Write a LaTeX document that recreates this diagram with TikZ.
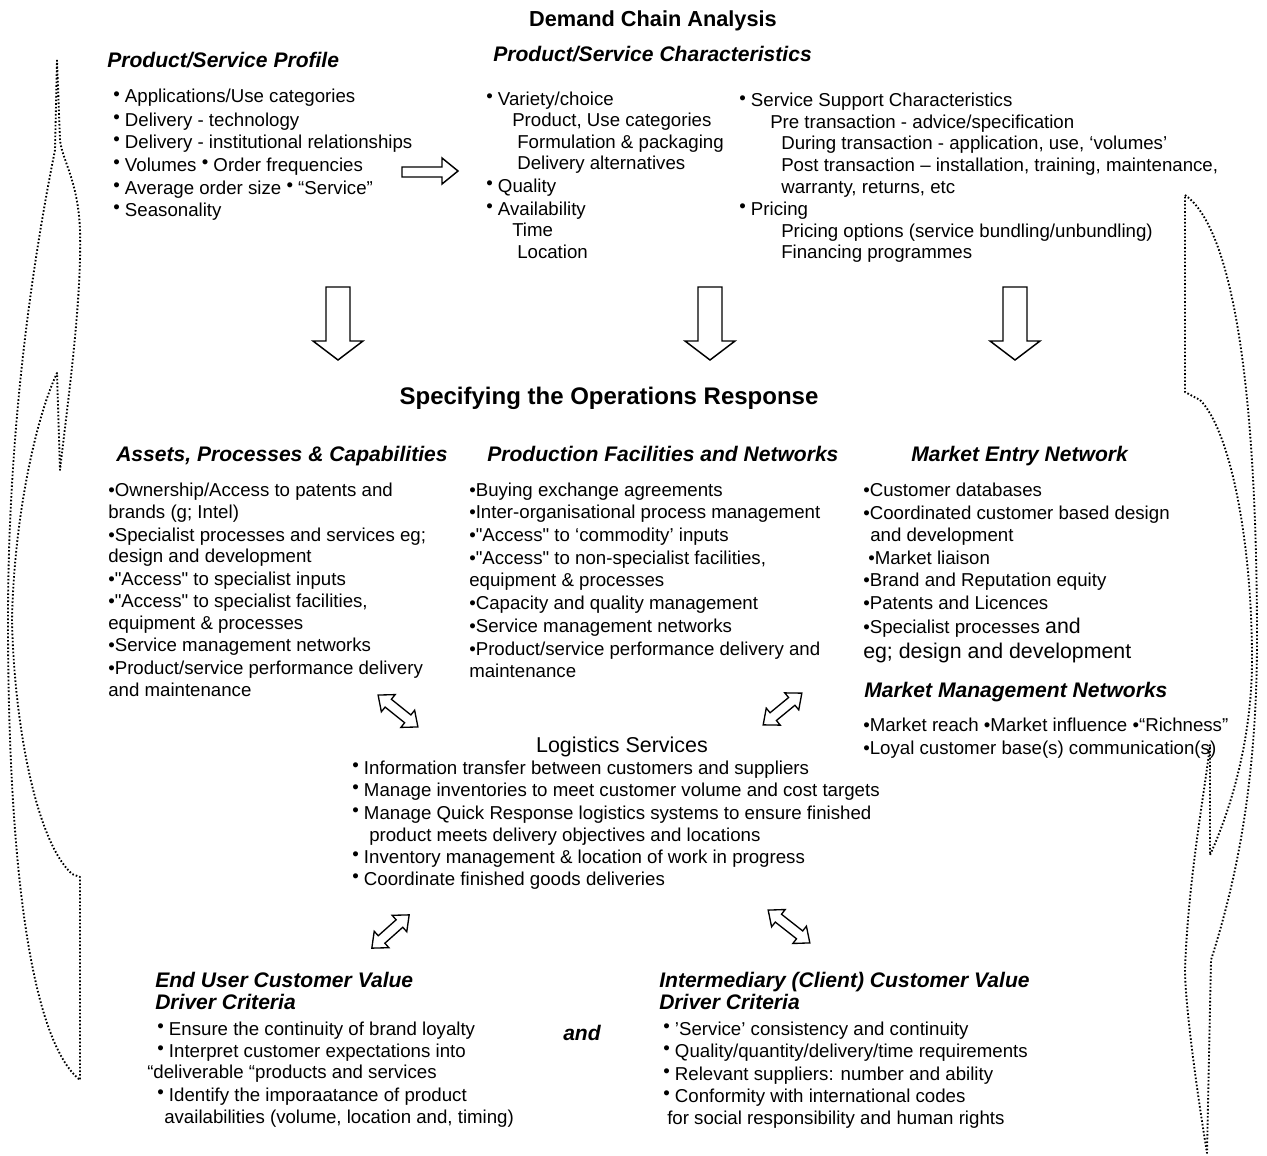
\documentclass[tikz,border=0pt]{standalone}
\usepackage{fontspec}
\setmainfont{Liberation Sans}
\newcommand\bt{\raisebox{0.15em}{•}}
\newcommand\qq{\textquotedbl}
\begin{document}
\begin{tikzpicture}[x=0.75pt,y=-0.75pt,
  txt/.style={anchor=base west,inner sep=0pt,font=\fontsize{14}{16}\selectfont},
  bigtxt/.style={anchor=base west,inner sep=0pt,font=\fontsize{16}{18}\selectfont},
  hd/.style={anchor=base west,inner sep=0pt,font=\fontsize{15.8}{18}\selectfont\bfseries\itshape},
  ttl/.style={anchor=base,inner sep=0pt,font=\fontsize{16.3}{19}\selectfont\bfseries},
  hollow/.style={draw,line width=1.1pt,fill=white,line join=miter},
  loopline/.style={draw,line width=1.4pt,dash pattern=on 1.2pt off 1.5pt,line join=round}
]
\useasboundingbox[fill=white] (0,0) rectangle (1267,1156);

% ---------- Demand chain analysis ----------
\node[ttl] (t1) at (653,27) {Demand Chain Analysis};
\node[hd] (h1) at (107,68) {Product/Service Profile};
\node[hd] (h2) at (493,62) {Product/Service Characteristics};

\node[txt] (a1) at (113,103) {\bt\ Applications/Use categories};
\node[txt] (a2) at (113,126) {\bt\ Delivery - technology};
\node[txt] (a3) at (113,148) {\bt\ Delivery - institutional relationships};
\node[txt] (a4) at (113,171) {\bt\ Volumes \bt\ Order frequencies};
\node[txt] (a5) at (113,194) {\bt\ Average order size \bt\ “Service”};
\node[txt] (a6) at (113,216) {\bt\ Seasonality};

\node[txt] (b1) at (486,105) {\bt\ Variety/choice};
\node[txt] (b2) at (512,126) {Product, Use categories};
\node[txt] (b3) at (517,148) {Formulation \& packaging};
\node[txt] (b4) at (517,169) {Delivery alternatives};
\node[txt] (b5) at (486,192) {\bt\ Quality};
\node[txt] (b6) at (486,215) {\bt\ Availability};
\node[txt] (b7) at (512,236) {Time};
\node[txt] (b8) at (517,258) {Location};

\node[txt] (c1) at (739,107) {\bt\ Service Support Characteristics};
\node[txt] (c2) at (770,128) {Pre transaction - advice/specification};
\node[txt] (c3) at (781,149) {During transaction - application, use, ‘volumes’};
\node[txt] (c4) at (781,171) {Post transaction – installation, training, maintenance,};
\node[txt] (c5) at (781,193) {warranty, returns, etc};
\node[txt] (c6) at (739,215) {\bt\ Pricing};
\node[txt] (c7) at (781,237) {Pricing options (service bundling/unbundling)};
\node[txt] (c8) at (781,258) {Financing programmes};

% hollow right arrow between the two top blocks
\draw[hollow] (402,167) -- (442,167) -- (442,158) -- (458,171) -- (442,184)
  -- (442,177) -- (402,177) -- cycle;

% hollow down arrows
\foreach \cx in {338,710,1015}{
  \draw[hollow] (\cx-12,287) -- (\cx+12,287) -- (\cx+12,341) -- (\cx+25,341)
    -- (\cx,360) -- (\cx-25,341) -- (\cx-12,341) -- cycle;
}

% ---------- Operations response ----------
\node[ttl,font=\fontsize{18}{21}\selectfont\bfseries] (t2) at (609,404) {Specifying the Operations Response};
\node[hd] (h3) at (116,461) {Assets, Processes \& Capabilities};
\node[hd] (h4) at (487,461) {Production Facilities and Networks};
\node[hd] (h5) at (911,461) {Market Entry Network};

\node[txt] (e1) at (108,496) {•Ownership/Access to patents and};
\node[txt] (e2) at (108,518) {brands (g; Intel)};
\node[txt] (e3) at (108,541) {•Specialist processes and services eg;};
\node[txt] (e4) at (108,562) {design and development};
\node[txt] (e5) at (108,585) {•\qq Access\qq\ to specialist inputs};
\node[txt] (e6) at (108,607) {•\qq Access\qq\ to specialist facilities,};
\node[txt] (e7) at (108,629) {equipment \& processes};
\node[txt] (e8) at (108,651) {•Service management networks};
\node[txt] (e9) at (108,674) {•Product/service performance delivery};
\node[txt] (e10) at (108,696) {and maintenance};

\node[txt] (f1) at (469,496) {•Buying exchange agreements};
\node[txt] (f2) at (469,518) {•Inter-organisational process management};
\node[txt] (f3) at (469,541) {•\qq Access\qq\ to ‘commodity’ inputs};
\node[txt] (f4) at (469,564) {•\qq Access\qq\ to non-specialist facilities,};
\node[txt] (f5) at (469,586) {equipment \& processes};
\node[txt] (f6) at (469,609) {•Capacity and quality management};
\node[txt] (f7) at (469,632) {•Service management networks};
\node[txt] (f8) at (469,655) {•Product/service performance delivery and};
\node[txt] (f9) at (469,677) {maintenance};

\node[txt] (g1) at (863,496) {•Customer databases};
\node[txt] (g2) at (863,519) {•Coordinated customer based design};
\node[txt] (g3) at (870,541) {and development};
\node[txt] (g4) at (868,564) {•Market liaison};
\node[txt] (g5) at (863,586) {•Brand and Reputation equity};
\node[txt] (g6) at (863,609) {•Patents and Licences};
\node[txt] (g7) at (863,633) {•Specialist processes {\fontsize{16}{18}\selectfont and}};
\node[bigtxt] (g8) at (863,658) {eg; design and development};

\node[hd] (h6) at (864,697) {Market Management Networks};
\node[txt] (m1) at (863,731) {•Market reach •Market influence •“Richness”};
\node[txt] (m2) at (863,754) {•Loyal customer base(s) communication(s)};

% ---------- Logistics ----------
\node[anchor=base,inner sep=0pt,font=\fontsize{16.1}{19}\selectfont] (t3) at (622,752) {Logistics Services};
\node[txt] (l1) at (352,774) {\bt\ Information transfer between customers and suppliers};
\node[txt] (l2) at (352,796) {\bt\ Manage inventories to meet customer volume and cost targets};
\node[txt] (l3) at (352,819) {\bt\ Manage Quick Response logistics systems to ensure finished};
\node[txt] (l4) at (369,841) {product meets delivery objectives and locations};
\node[txt] (l5) at (352,863) {\bt\ Inventory management \& location of work in progress};
\node[txt] (l6) at (352,885) {\bt\ Coordinate finished goods deliveries};

% ---------- Customer value drivers ----------
\node[hd] (h7) at (155,987) {End User Customer Value};
\node[hd] (h8) at (155,1009) {Driver Criteria};
\node[txt] (u1) at (157,1035) {\bt\ Ensure the continuity of brand loyalty};
\node[txt] (u2) at (157,1057) {\bt\ Interpret customer expectations into};
\node[txt] (u3) at (147,1078) {“deliverable “products and services};
\node[txt] (u4) at (157,1101) {\bt\ Identify the imporaatance of product};
\node[txt] (u5) at (164,1123) {availabilities (volume, location and, timing)};

\node[hd] (and) at (563,1040) {and};

\node[hd] (h9) at (659,987) {Intermediary (Client) Customer Value};
\node[hd] (h10) at (659,1009) {Driver Criteria};
\node[txt] (v1) at (663,1035) {\bt\ 'Service' consistency and continuity};
\node[txt] (v2) at (663,1057) {\bt\ Quality/quantity/delivery/time requirements};
\node[txt] (v3) at (663,1080) {\bt\ Relevant suppliers: number and ability};
\node[txt] (v4) at (663,1102) {\bt\ Conformity with international codes};
\node[txt] (v5) at (667,1124) {for social responsibility and human rights};

% ---------- hollow double-headed arrows ----------
\foreach \cx/\cy/\ang/\len in {398/711/-38.7/51, 782.5/709/39.4/50, 390.5/931.5/41.7/50, 789/926.5/-38.2/53}{
  \begin{scope}[shift={(\cx,\cy)},rotate=\ang]
    \pgfmathsetmacro\hl{\len/2}
    \pgfmathsetmacro\hs{\len/2-13}
    \draw[hollow,line width=1pt] (-\hl,0) -- (-\hs,-11) -- (-\hs,-5) -- (\hs,-5) -- (\hs,-11)
      -- (\hl,0) -- (\hs,11) -- (\hs,5) -- (-\hs,5) -- (-\hs,11) -- cycle;
  \end{scope}
}

% ---------- dotted curved feedback arrows ----------
\draw[loopline] (57,60) -- (55,150) .. controls (25,300) and (8,460) .. (8,620)
  .. controls (8,860) and (30,1040) .. (80,1080) -- (80,877) -- (72,874)
  .. controls (35,840) and (14,720) .. (12,620)
  .. controls (14,520) and (35,420) .. (57,373) -- (60,470)
  .. controls (68,400) and (82,300) .. (80,230)
  .. controls (78,180) and (62,160) .. (60,140) -- cycle;

\draw[loopline] (1185,195) .. controls (1235,230) and (1257,400) .. (1257,640)
  .. controls (1257,800) and (1230,900) .. (1211,960) -- (1207,1153)
  .. controls (1195,1080) and (1185,1000) .. (1185,970)
  .. controls (1188,880) and (1205,790) .. (1210,745) -- (1210,855)
  .. controls (1235,800) and (1252,730) .. (1252,660)
  .. controls (1252,540) and (1230,430) .. (1200,400) -- (1185,392) -- cycle;
\end{tikzpicture}
\end{document}
